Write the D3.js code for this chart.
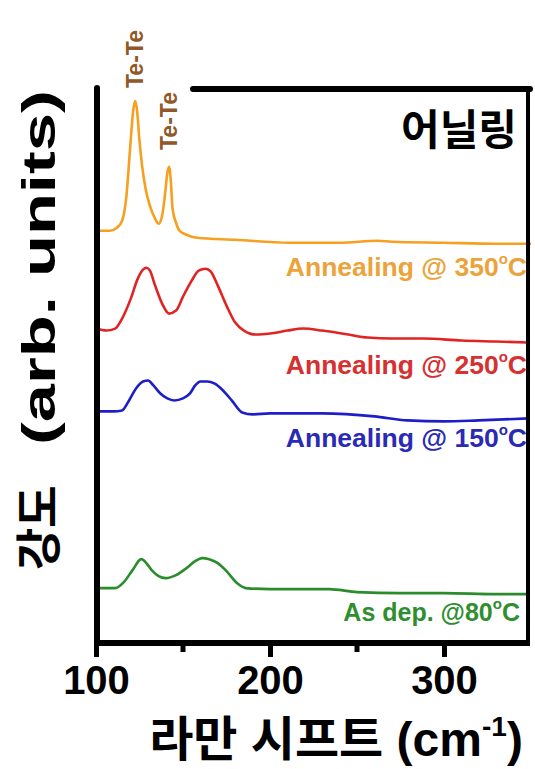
<!DOCTYPE html>
<html>
<head>
<meta charset="utf-8">
<script src="https://cdn.jsdelivr.net/npm/d3@7"></script>
<style>
  body { margin: 0; background: #fff; }
  text { font-family: "Liberation Sans", Arial, "Noto Sans CJK KR", sans-serif; font-weight: bold; }
</style>
</head>
<body>
<div id="chart"></div>
<script>
// raman shift (cm-1) and intensity (arb. units, offset stacked)
const shiftOrange = [100,108,112,115,117.5,119.5,121.5,122.5,123.5,125,126.5,128.5,131,134,136,138,139.7,141,142,143,144,146,148,152,158,180,211,240,262,270,300,330,350];
const intOrange   = [413,413,416,423,448,493,535,543,535,503,478,455,438,425,420,428,450,471,477,463,435,421,413,409,406,404,401,401,403,402,401,400,400];

const shiftRed = [100,106,111,115,120,124,127,129,131,134,138,142,146,150,155,159,163,166,170,175,180,185,192,200,210,219,230,245,256,270,288,310,330,349];
const intRed   = [315,313,315,325,345,365,374,376,373,358,340,330,333,347,363,373,375,372,358,338,321,313,309,310,313,315,313,309,306,305,305,303,302,301];

const shiftBlue = [100,110,115,119,123,127,130,133,137,141,145,150,154,157,160,164,168,173,178,184,190,200,230,260,279,300,320,349];
const intBlue   = [232,232,233,243,255,262,263,258,250,245,243,245,250,258,262,262,260,253,243,231,229,230,230,227,223,222,223,225];

const shiftGreen = [100,111,116,121,126,128,132,136,140,146,152,157,161,165,170,175,181,186,200,234,250,275,300,330,349];
const intGreen   = [55,55,61,73,84,82,73,67,65,68,75,82,85,84,80,72,60,55,54,54,51,50,50,49,49];

const seriesNames  = ["Annealing @ 350", "Annealing @ 250", "Annealing @ 150", "As dep. @80"];
const seriesColors = ["#f5a020", "#e02424", "#1e1ec8", "#2a8c2a"];
const labelColors  = ["#eba33a", "#d63030", "#2a2ab4", "#2f8f2f"];
const xTicks = [100, 200, 300];
const xMinor = [150, 250];
const peakLabels = [{v: 122.5, t: "Te-Te"}, {v: 142, t: "Te-Te"}];

const W = 535, H = 769;
const plot = {left: 97, right: 528, top: 89, bottom: 643};

const x = d3.scaleLinear().domain([100, 350]).range([96, 531]);
const y = d3.scaleLinear().domain([0, 555]).range([plot.bottom, plot.top]);

const svg = d3.select("#chart").append("svg")
    .attr("width", W).attr("height", H);

const series = [
  {s: shiftOrange, v: intOrange},
  {s: shiftRed, v: intRed},
  {s: shiftBlue, v: intBlue},
  {s: shiftGreen, v: intGreen}
];

const line = d3.line()
    .x(d => x(d[0]))
    .y(d => y(d[1]))
    .curve(d3.curveMonotoneX);

svg.selectAll(".spec")
  .data(series)
  .enter().append("path")
    .attr("class", "spec")
    .attr("fill", "none")
    .attr("stroke", (d, i) => seriesColors[i])
    .attr("stroke-width", 2.6)
    .attr("stroke-linejoin", "round")
    .attr("d", d => line(d.s.map((s, j) => [s, d.v[j]])));

// frame
const frame = svg.append("g").attr("stroke", "#000").attr("stroke-linecap", "round");
frame.append("line").attr("x1", plot.left).attr("x2", plot.left).attr("y1", 88).attr("y2", plot.bottom)
  .attr("stroke-width", 6);
frame.append("line").attr("x1", 193).attr("x2", 530).attr("y1", plot.top).attr("y2", plot.top)
  .attr("stroke-width", 6);
frame.append("line").attr("x1", plot.right).attr("x2", plot.right).attr("y1", plot.top).attr("y2", plot.bottom)
  .attr("stroke-width", 4);

// x axis
const xAxis = d3.axisBottom(x).tickValues(xTicks).tickSize(14).tickFormat(d3.format("d"));
const gx = svg.append("g").attr("transform", "translate(0," + plot.bottom + ")").call(xAxis);
gx.select(".domain").attr("stroke-width", 6).attr("d", "M" + plot.left + ",0H530");
gx.selectAll(".tick line").attr("stroke-width", 5);
gx.selectAll(".tick text").attr("font-size", 40).attr("fill", "#000").attr("dy", 0).attr("y", 51);

gx.selectAll(".minor")
  .data(xMinor)
  .enter().append("line")
    .attr("class", "minor")
    .attr("x1", d => x(d)).attr("x2", d => x(d))
    .attr("y1", 0).attr("y2", 9)
    .attr("stroke", "#000").attr("stroke-width", 5);

// legend labels
const labelY = [276, 374, 447, 621];
const labelRight = [527, 527, 527, 520];
const labelSize = [26.5, 26.5, 26.5, 25];
seriesNames.forEach((n, i) => {
  const t = svg.append("text")
    .attr("x", labelRight[i]).attr("y", labelY[i])
    .attr("text-anchor", "end")
    .attr("font-size", labelSize[i])
    .attr("fill", labelColors[i]);
  t.append("tspan").text(n);
  t.append("tspan").attr("font-size", 15).attr("dy", -12).text("o");
  t.append("tspan").attr("dy", 12).text("C");
});

// title
svg.append("text")
  .attr("x", 517).attr("y", 145)
  .attr("text-anchor", "end")
  .attr("font-size", 42)
  .attr("fill", "#000")
  .text("어닐링");

// peak labels
svg.selectAll(".peak")
  .data(peakLabels)
  .enter().append("text")
    .attr("class", "peak")
    .attr("transform", (d, i) => "translate(" + (x(d.v) + 8) + "," + (i == 0 ? 88 : 150) + ") rotate(-90)")
    .attr("font-size", 23)
    .attr("font-weight", "normal")
    .attr("fill", "#8f5a28")
    .text(d => d.t);

// axis titles
const xl = svg.append("text")
  .attr("x", 336).attr("y", 756)
  .attr("text-anchor", "middle")
  .attr("font-size", 48)
  .attr("fill", "#000");
xl.append("tspan").text("라만 시프트  (cm");
xl.append("tspan").attr("font-size", 28).attr("dy", -20).text("-1");
xl.append("tspan").attr("dy", 20).text(")");

// y title: korean part and stretched latin part
svg.append("text")
  .attr("transform", "translate(55,570) rotate(-90)")
  .attr("font-size", 46)
  .attr("fill", "#000")
  .text("강도");

const yl = svg.append("text")
  .attr("font-size", 46)
  .attr("fill", "#000")
  .text("(arb. units)");
const ylLen = yl.node().getComputedTextLength();
const ylSpan = 445 - 90;
yl.attr("transform", "translate(55,445) rotate(-90) scale(" + (ylSpan / ylLen) + ",1)");
</script>
</body>
</html>
